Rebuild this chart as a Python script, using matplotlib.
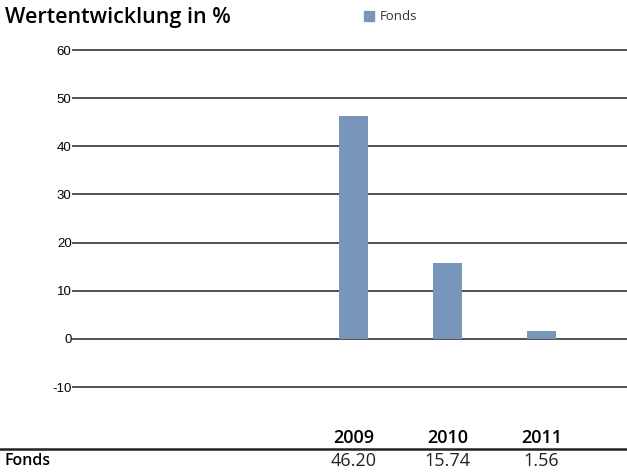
import matplotlib.pyplot as plt
import matplotlib.transforms as mtransforms
from matplotlib.lines import Line2D
from matplotlib.patches import Rectangle

years = ['2009', '2010', '2011']
fonds = [46.20, 15.74, 1.56]
value_labels = ['46.20', '15.74', '1.56']
y_ticks = [-10, 0, 10, 20, 30, 40, 50, 60]

bar_color = '#7896BA'
W, H = 627, 473

fig = plt.figure(figsize=(W / 100, H / 100), dpi=100)
ax = fig.add_axes([73 / W, 1 - 387 / H, (W - 73) / W, 337 / H])

pos = list(range(len(years)))
ax.bar(pos, fonds, width=0.31, color=bar_color, zorder=3)

ax.set_ylim(-10, 60)
ax.set_xlim(-2.984, 2.91)
ax.set_yticks(y_ticks)
ax.set_yticklabels([str(t) for t in y_ticks], fontsize=9.5, family='Liberation Sans')
ax.tick_params(axis='y', length=0, pad=1)
ax.set_xticks([])
for s in ax.spines.values():
    s.set_visible(False)
for t in y_ticks:
    ax.axhline(t, color='#444444', lw=1.3, zorder=2, clip_on=False)

# title and legend
fig.text(5 / W, 1 - 17 / H, 'Wertentwicklung in %', fontsize=15.5, fontweight='semibold',
         family='Open Sans', va='center', ha='left')
fig.add_artist(Rectangle((364 / W, 1 - 21 / H), 10 / W, 10 / H, color=bar_color,
                         transform=fig.transFigure))
fig.text(380 / W, 1 - 16 / H, 'Fonds', fontsize=9.5, family='Open Sans', va='center',
         ha='left', color='#333333')

# table below the chart
trans = mtransforms.blended_transform_factory(ax.transData, fig.transFigure)
for p, y, v in zip(pos, years, value_labels):
    ax.text(p, 1 - 438 / H, y, transform=trans, ha='center', va='center',
            fontsize=13, fontweight='semibold', family='Open Sans')
    ax.text(p, 1 - 461 / H, v, transform=trans, ha='center', va='center',
            fontsize=13, family='Open Sans', color='#222222')
fig.text(5 / W, 1 - 461 / H, 'Fonds', fontsize=11.5, fontweight='semibold',
         family='Open Sans', va='center', ha='left')
fig.add_artist(Line2D([0, 1], [1 - 449 / H, 1 - 449 / H], color='#222222', lw=1.8,
                      transform=fig.transFigure))

fig.savefig('out.png', dpi=100)
